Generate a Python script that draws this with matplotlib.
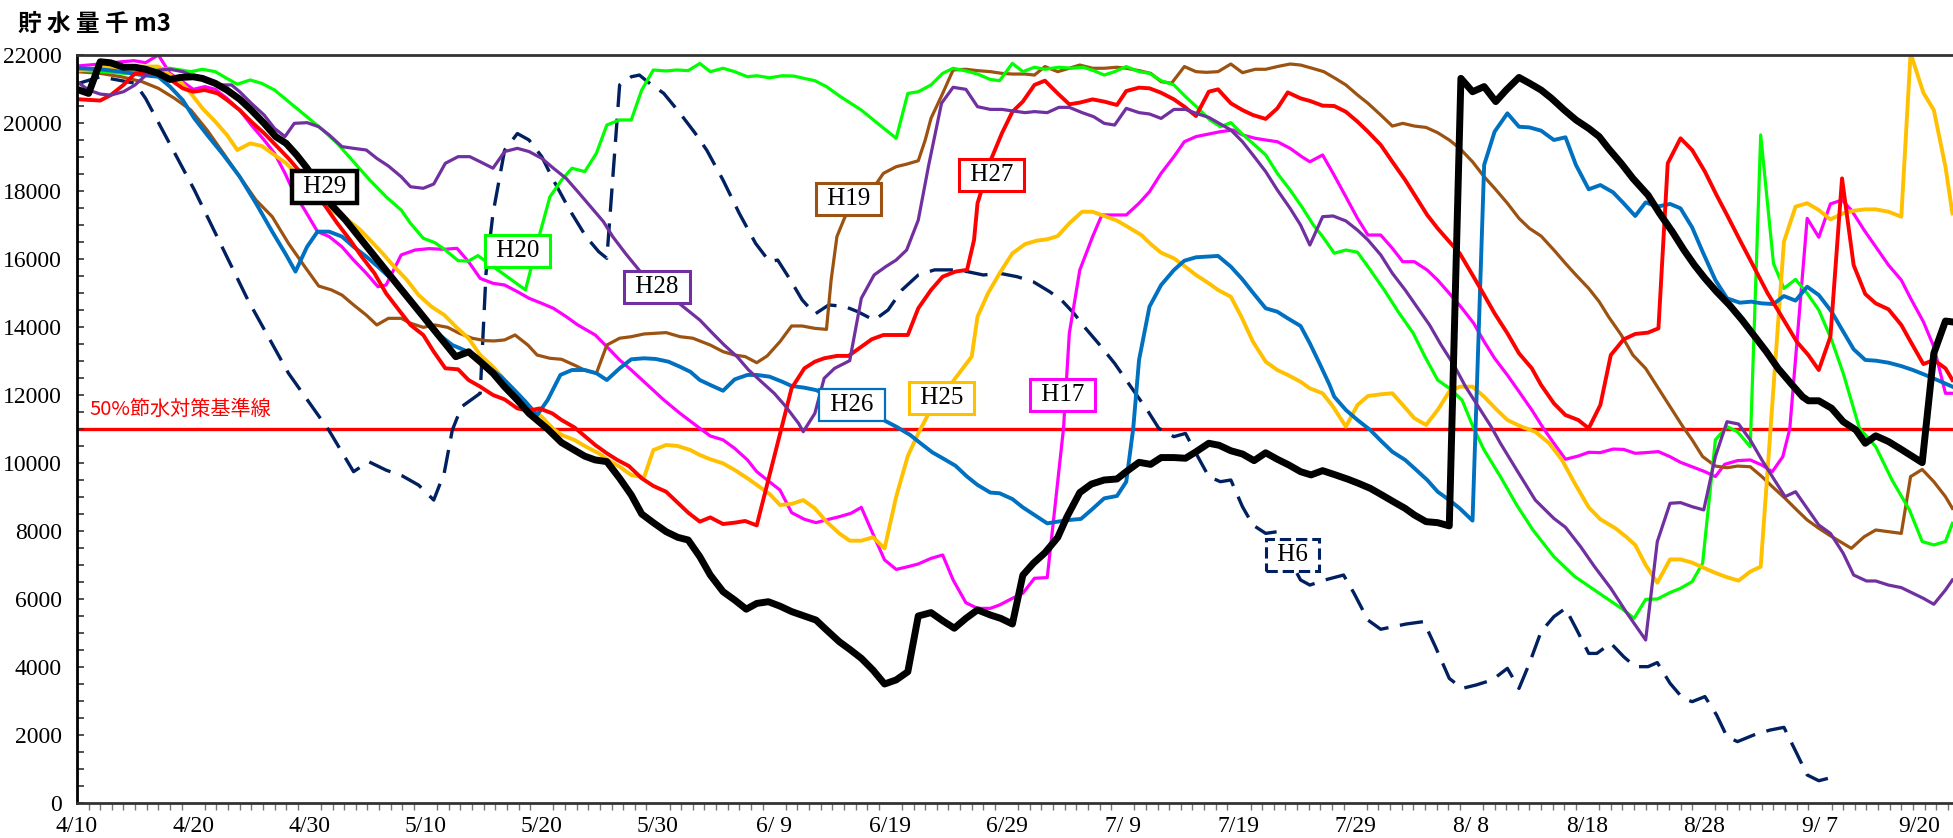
import matplotlib.pyplot as plt
from matplotlib.ticker import MultipleLocator

# storage in thousand m3, x = days counted from 4/10
h29_day = [0, 1, 2, 2.9, 4, 5, 5.9, 7, 8, 8.9, 10, 10.8, 11.9, 12.9, 14, 15, 16.1, 17.1, 18, 18.9, 19.8,
           21.9, 23.1, 27.8, 32.6, 33.7, 34.7, 35.8, 36.8, 37.9, 38.9, 40.5, 41.7, 42.8, 43.7, 44.6, 45.6,
           46.7, 47.7, 48.6, 49.6, 50.7, 51.7, 52.6, 53.6, 54.5, 55.6, 56.6, 57.6, 58.5, 59.5, 60.5, 61.5,
           62.6, 63.6, 64.5, 65.6, 66.5, 67.5, 68.5, 69.5, 70.5, 71.5, 72.4, 73.5, 74.5, 75.5, 76.5, 77.5,
           78.6, 79.5, 80.5, 81.4, 82.3, 83.3, 84.4, 85.2, 86.3, 87.3, 88.4, 89.5, 90.3, 91.4, 92.4, 93.3,
           94.4, 95.4, 96.3, 97.4, 98.3, 99.3, 100.3, 101.3, 102.3, 103.3, 104.3, 105.3, 106.2, 107.2,
           108.3, 109.4, 110.3, 111.3, 112.3, 113.3, 114.3, 115.1, 116.1, 117.1, 118.1, 119.1, 120.1,
           121.1, 122.1, 123, 124.1, 125, 126, 126.9, 128, 129, 130.1, 131, 131.8, 132.9, 133.9, 135.2,
           136.2, 137.3, 138.3, 139.2, 140.1, 141.1, 142.2, 143.3, 144.3, 145.4, 146.4, 147.5, 148.5, 149,
           149.9, 151, 152, 153.1, 153.9, 154.8, 155.9, 157, 157.9, 158.8, 159.8, 160.8, 161.4]
h29_val = [20990, 20870, 21800, 21770, 21640, 21640, 21580, 21460, 21280, 21340, 21360, 21310, 21166,
           20970, 20700, 20380, 19990, 19600, 19400, 19060, 18670, 17590, 17150, 15150, 13127, 13270,
           12980, 12640, 12240, 11850, 11460, 11000, 10600, 10380, 10200, 10090, 10040, 9550, 9060, 8500,
           8245, 7980, 7814, 7735, 7245, 6706, 6216, 5970, 5700, 5870, 5920, 5790, 5630, 5500, 5380, 5090,
           4745, 4520, 4255, 3910, 3500, 3620, 3860, 5500, 5600, 5360, 5140, 5430, 5680, 5530, 5430, 5265,
           6700, 7050, 7360, 7810, 8420, 9130, 9380, 9500, 9530, 9745, 10020, 9960, 10160, 10160, 10140,
           10330, 10580, 10520, 10360, 10265, 10070, 10300, 10110, 9940, 9745, 9650, 9775, 9650, 9520,
           9400, 9255, 9060, 8860, 8665, 8470, 8275, 8245, 8150, 21313, 20920, 21070, 20630, 20970, 21340,
           21170, 20970, 20725, 20380, 20090, 19840, 19600, 19250, 18810, 18370, 17880, 17340, 16800,
           16260, 15820, 15430, 15040, 14650, 14205, 13760, 13270, 12780, 12340, 11950, 11830, 11830,
           11610, 11215, 10970, 10580, 10800, 10630, 10400, 10205, 10010, 13225, 14175, 14150]

h6_day = [0, 2, 5, 5.9, 10.1, 14.7, 18.2, 21.7, 23.8, 25.1, 26.6, 28, 29.4, 30.7, 31.6, 32.3, 33.1, 34.7,
          35.2, 35.8, 36.8, 37.9, 38.9, 40, 41, 42.4, 43.8, 44.9, 45.6, 46.7, 47.7, 48.4, 49.1, 50.5, 51.9,
          53.2, 54.2, 55.6, 57, 58.4, 59.6, 60.3, 61.4, 62.4, 63.5, 64.7, 66.1, 67.2, 68.6, 69.8, 71, 72.4,
          73.8, 75.2, 76.6, 78, 79.4, 80.9, 82.3, 83.7, 84.7, 85.8, 86.8, 87.9, 89.3, 90.7, 92.1, 93.1, 94.4,
          95.4, 96.3, 97.4, 98.4, 99.3, 100.3, 101.2, 102.3, 103.3, 104.3, 105.3, 106.1, 107.4, 109, 109.9,
          111.1, 112.2, 114.4, 115.9, 116.9, 118.1, 119.2, 120.4, 121.8, 123.1, 124.1, 125, 126, 127.1,
          128.1, 129, 130.1, 130.8, 132, 133.1, 134.1, 135.2, 136, 137.1, 138.2, 139, 140.1, 141.1, 142,
          142.9, 144.3, 145.7, 146.9, 148, 148.9, 149.9, 151.5]
h6_val = [21150, 21360, 21170, 20725, 18030, 14800, 12640, 10950, 9745, 10040, 9790, 9620, 9350, 8910,
          9700, 10970, 11656, 12050, 15580, 17340, 19200, 19690, 19500, 19010, 18320, 17440, 16660, 16215,
          16020, 21120, 21360, 21410, 21215, 20870, 20285, 19700, 19200, 18320, 17340, 16460, 15920, 15970,
          15380, 14800, 14380, 14650, 14600, 14450, 14200, 14500, 15090, 15530, 15680, 15680, 15630, 15530,
          15580, 15480, 15330, 15040, 14800, 14400, 13960, 13520, 12930, 12240, 11560, 11020, 10775, 10870,
          10285, 9600, 9450, 9500, 8715, 8175, 7930, 7980, 7200, 6560, 6410, 6560, 6705, 6170, 5380, 5110,
          5265, 5335, 4600, 3665, 3370, 3470, 3620, 3960, 3370, 4110, 5040, 5480, 5725, 5140, 4400, 4400,
          4700, 4305, 4010, 4010, 4130, 3520, 3080, 2980, 3130, 2590, 1950, 1805, 2000, 2145, 2225, 1460,
          825, 655, 795]

h17_day = [0, 2, 3.8, 4.9, 5.9, 7, 8, 9.1, 10, 11, 11.9, 12.9, 14, 15, 16.1, 17, 17.9, 18.7, 19.6, 20.7,
           21.7, 22.8, 23.8, 24.9, 25.9, 26.6, 27.9, 29.1, 30.3, 31.6, 32.7, 33.7, 34.7, 35.8, 36.8, 37.9,
           38.9, 40, 41, 42.1, 43.1, 44.6, 45.6, 46.7, 47.7, 49.1, 50.5, 51.9, 53.6, 54.5, 55.6, 56.6, 57.7,
           58.5, 59.4, 60.5, 61.5, 62.6, 63.6, 64.7, 65.6, 66.6, 67.5, 68.6, 69.5, 70.5, 71.5, 72.4, 73.5,
           74.5, 75.4, 76.5, 77.5, 78.6, 79.4, 80.5, 81.4, 82.4, 83.5, 84.9, 85.4, 86.3, 87.4, 88.2, 89.3,
           90.3, 91.4, 92.3, 93.3, 94.4, 95.3, 96.3, 97.4, 98.4, 99.5, 100.3, 101.4, 102.3, 103.3, 104.4,
           105.4, 106.1, 107.2, 108.1, 109.2, 110.2, 111.1, 112.2, 113.2, 114.1, 115.1, 116.2, 117.1, 118.1,
           119.2, 120.2, 121.1, 122, 123.1, 124.1, 125.2, 126.2, 127.1, 128.1, 129.2, 130.1, 131.1, 132.2,
           133.1, 134.1, 135, 136.1, 137.1, 138, 139, 140.1, 141, 141.8, 142.9, 144, 145, 145.9, 146.8,
           147.4, 148.9, 149.9, 150.9, 151.9, 152.7, 153.8, 154.8, 155.9, 157, 157.8, 158.9, 159.8, 160.8,
           161.4]
h17_val = [21676, 21735, 21800, 21833, 21775, 22000, 21460, 21215, 20990, 21070, 20990, 20725, 20380,
           19940, 19500, 19110, 18520, 17930, 17440, 16805, 16660, 16360, 15970, 15580, 15185, 15235, 16120,
           16265, 16305, 16285, 16315, 15920, 15430, 15285, 15235, 15040, 14845, 14695, 14550, 14305, 14060,
           13765, 13420, 13030, 12735, 12295, 11855, 11460, 11020, 10795, 10680, 10430, 10090, 9745, 9500,
           9205, 8540, 8345, 8245, 8345, 8420, 8520, 8695, 7835, 7150, 6870, 6950, 7030, 7195, 7295, 6560,
           5890, 5725, 5725, 5825, 6020, 6170, 6610, 6630, 11020, 13815, 15675, 16655, 17295, 17295, 17295,
           17640, 17980, 18520, 19010, 19450, 19600, 19675, 19745, 19795, 19650, 19550, 19500, 19450, 19255,
           19010, 18860, 19060, 18520, 17830, 17195, 16705, 16705, 16315, 15920, 15920, 15675, 15380, 14990,
           14550, 14110, 13570, 13080, 12585, 12100, 11560, 11020, 10580, 10110, 10205, 10315, 10305, 10410,
           10400, 10285, 10305, 10335, 10185, 10020, 9890, 9745, 9600, 9960, 10070, 10090, 9940, 9745, 10185,
           11000, 17195, 16640, 17620, 17735, 17440, 16850, 16360, 15820, 15380, 14845, 14155, 13420, 12050,
           12050]

h19_day = [0, 2, 3.8, 5.6, 7, 8.4, 9.8, 11.2, 12.6, 14, 15.4, 16.8, 18.2, 19.6, 20.8, 21.9, 22.8, 23.8,
           24.9, 25.8, 26.8, 27.9, 28.7, 29.8, 30.8, 31.9, 32.9, 34, 35.1, 35.9, 36.8, 37.7, 38.8, 39.6, 40.7,
           41.7, 42.8, 43.8, 44.7, 45.6, 46.7, 47.7, 48.8, 49.8, 50.7, 51.9, 53, 54.5, 55.6, 56.6, 57.5, 58.5,
           59.4, 60.5, 61.5, 62.4, 63.5, 64.5, 64.9, 65.4, 66.1, 68.7, 69.4, 70.5, 71.4, 72.4, 73, 73.5, 74.5,
           75.4, 76.5, 77.5, 78.6, 79.6, 80.5, 81.6, 82.4, 83.3, 84.4, 85.4, 86.3, 87.4, 88.4, 89.5, 90.3,
           91.4, 92.4, 93.3, 94.2, 95.3, 96.3, 97.2, 98.2, 99.3, 100.3, 101.4, 102.3, 103.3, 104.4, 105.3,
           106.3, 107.3, 108.3, 109.2, 110.2, 111.1, 112.2, 113.2, 114.1, 115.1, 116.1, 117.1, 118.1, 119,
           120.1, 121.1, 122, 123.1, 124.1, 125, 126, 127.1, 128.1, 129, 130.1, 131, 131.8, 132.9, 133.9, 135,
           136, 137.1, 138.2, 139, 139.9, 141, 142, 142.9, 144, 145, 145.9, 147, 148, 148.9, 149.9, 150.8,
           151.9, 152.7, 153.8, 154.8, 155.9, 157, 157.8, 158.8, 159.8, 160.8, 161.4]
h19_val = [21510, 21460, 21360, 21215, 21020, 20725, 20380, 19790, 19110, 18420, 17735, 17245, 16460,
           15775, 15205, 15090, 14940, 14650, 14350, 14060, 14255, 14255, 14110, 13990, 14060, 13990, 13815,
           13670, 13600, 13590, 13620, 13765, 13470, 13175, 13080, 13050, 12880, 12715, 12640, 13470, 13670,
           13715, 13795, 13815, 13835, 13715, 13670, 13470, 13275, 13175, 13130, 12950, 13150, 13570, 14030,
           14030, 13960, 13930, 15380, 16660, 17245, 18170, 18520, 18715, 18790, 18890, 19500, 20140, 20870,
           21560, 21580, 21540, 21510, 21460, 21440, 21440, 21410, 21660, 21510, 21610, 21705, 21610, 21610,
           21640, 21610, 21540, 21460, 21215, 21170, 21660, 21510, 21490, 21510, 21735, 21480, 21580, 21580,
           21660, 21735, 21705, 21610, 21510, 21310, 21120, 20825, 20580, 20235, 19910, 19990, 19910, 19870,
           19715, 19500, 19255, 18860, 18420, 18080, 17640, 17195, 16900, 16675, 16265, 15870, 15530, 15135,
           14745, 14305, 13765, 13175, 12780, 12245, 11655, 11070, 10680, 10190, 9910, 9860, 9910, 9890,
           9600, 9305, 8960, 8620, 8325, 8080, 7880, 7655, 7490, 7830, 8030, 7980, 7930, 9600, 9810, 9450,
           9010, 8665]

h20_day = [0, 4.2, 6.1, 8, 9.8, 10.8, 11.9, 12.9, 13.8, 14.9, 15.9, 17, 18.2, 19.6, 21, 22.4, 23.8, 25.2,
           26.6, 27.9, 28.7, 29.8, 30.8, 31.7, 32.8, 33.7, 34.5, 38.6, 39.8, 40.7, 41.7, 42.6, 43.7, 44.7,
           45.6, 46.7, 47.7, 48.6, 49.6, 50.7, 51.6, 52.6, 53.6, 54.5, 55.6, 56.6, 57.7, 58.5, 59.6, 60.7,
           61.7, 62.6, 63.5, 64.5, 65.7, 67.5, 68.9, 70.5, 71.5, 72.4, 73.5, 74.5, 75.4, 76.5, 77.5, 78.6,
           79.4, 80.5, 81.4, 82.4, 83.3, 84.5, 85.6, 86.6, 87.5, 88.4, 89.3, 90.3, 91.4, 92.3, 93.3, 94.4,
           95.4, 96.5, 97.5, 98.4, 99.3, 100.2, 101.2, 102.3, 103.3, 104.4, 105.4, 106.4, 107.2, 108.2,
           109.2, 110.2, 111.3, 112.5, 113.7, 115, 116, 117.1, 118.1, 119.2, 120.2, 121.1, 122.5, 123.9,
           125.3, 127.1, 128.9, 131, 133.1, 134, 135, 136, 137.1, 138, 139, 139.9, 141, 142, 142.9, 144,
           144.9, 146, 146.9, 147.9, 148.9, 149.9, 151, 152, 153.4, 154.8, 156.2, 157.7, 158.8, 159.8,
           160.8, 161.4]
h20_val = [21560, 21460, 21560, 21610, 21510, 21580, 21510, 21310, 21140, 21265, 21166, 20970, 20630,
           20235, 19840, 19400, 18860, 18320, 17830, 17440, 17050, 16610, 16480, 16265, 15950, 15940, 16100,
           15090, 16705, 17830, 18320, 18670, 18570, 19110, 19940, 20090, 20090, 20970, 21560, 21530, 21560,
           21540, 21750, 21510, 21610, 21510, 21360, 21390, 21330, 21390, 21380, 21310, 21245, 21070, 20775,
           20380, 19990, 19550, 20870, 20920, 21120, 21460, 21610, 21530, 21440, 21280, 21245, 21755, 21510,
           21640, 21580, 21640, 21610, 21640, 21540, 21410, 21510, 21660, 21510, 21460, 21245, 21120, 20775,
           20430, 20090, 19890, 20010, 19700, 19400, 19060, 18520, 18030, 17540, 17000, 16660, 16170, 16265,
           16200, 15680, 15090, 14450, 13815, 13130, 12440, 12200, 11850, 11020, 10380, 9600, 8765, 8030,
           7245, 6660, 6170, 5680, 5430, 5990, 6000, 6190, 6315, 6510, 7050, 10680, 11070, 10920, 10480,
           19650, 15870, 15135, 15400, 14990, 14500, 13620, 12640, 11020, 10480, 9500, 8620, 7690, 7590,
           7690, 8225]

h25_day = [0, 2, 3.8, 5.6, 7, 8, 8.9, 9.8, 10.8, 11.9, 12.9, 13.8, 14.9, 15.9, 17, 18, 19.1, 20.1, 21.2,
           22.3, 23.3, 24.4, 25.2, 26.3, 27.3, 28.4, 29.4, 30.5, 31.6, 32.6, 33.7, 34.7, 35.8, 36.8, 37.9,
           38.9, 40, 41, 41.7, 42.8, 43.8, 44.9, 45.8, 46.7, 47.7, 48.8, 49.6, 50.7, 51.7, 52.8, 53.6, 54.5,
           55.6, 56.6, 57.7, 58.5, 59.6, 60.5, 61.5, 62.5, 63.5, 64.5, 65.6, 66.5, 67.5, 68.5, 69.5, 70.5,
           71.5, 72.4, 73.3, 77, 77.5, 78.4, 79.4, 80.5, 81.6, 82.6, 83.5, 84.4, 85.4, 86.5, 87.4, 88.4, 89.5,
           90.5, 91.6, 92.4, 93.3, 94.4, 95.3, 96.3, 97.4, 98.2, 99.3, 100.2, 101.2, 102.3, 103.3, 104.2,
           105.3, 106.1, 107.2, 108.1, 109.2, 110.2, 111.1, 112.2, 113.2, 114.1, 115.1, 116.1, 117.1, 118.1,
           119, 120.1, 121.1, 122.2, 123.1, 124.3, 125.5, 126.7, 127.8, 128.9, 130.1, 131.1, 132.4, 133.3,
           134.1, 135, 136, 137.1, 138, 139, 140.1, 141.1, 142, 143, 144, 144.9, 146.9, 147.9, 148.9, 149.9,
           150.9, 152, 152.9, 153.9, 154.8, 155.9, 157, 157.8, 158.9, 159.8, 160.8, 161.4]
h25_val = [21540, 21610, 21640, 21660, 21660, 21410, 21215, 20870, 20430, 20040, 19650, 19205, 19400,
           19325, 19060, 18815, 18420, 17980, 17640, 17345, 17150, 16850, 16560, 16165, 15775, 15380, 14940,
           14600, 14355, 14010, 13665, 13175, 12830, 12440, 12050, 11655, 11360, 11000, 10825, 10680, 10480,
           10285, 10070, 9890, 9645, 9580, 10380, 10530, 10500, 10380, 10235, 10110, 9990, 9795, 9550, 9355,
           9090, 8765, 8795, 8910, 8665, 8275, 7930, 7715, 7715, 7815, 7490, 9010, 10205, 10870, 11460,
           13130, 14305, 14990, 15580, 16165, 16440, 16540, 16580, 16675, 17050, 17390, 17390, 17265, 17130,
           16930, 16705, 16440, 16185, 16020, 15795, 15530, 15285, 15090, 14890, 14305, 13570, 12980, 12735,
           12590, 12390, 12195, 12050, 11655, 11070, 11705, 11970, 12020, 12050, 11705, 11315, 11120, 11560,
           12100, 12245, 12245, 11950, 11560, 11265, 11070, 10920, 10580, 10090, 9400, 8695, 8345, 8080,
           7835, 7590, 7000, 6480, 7165, 7165, 7070, 6900, 6755, 6640, 6540, 6805, 6950, 16510, 17540, 17640,
           17440, 17165, 17345, 17420, 17460, 17460, 17390, 17245, 22050, 20890, 20380, 18715, 17340]

h26_day = [0, 2, 3.8, 5.6, 7, 8, 9.1, 10.1, 11.2, 12.6, 14, 15.4, 16.8, 18, 18.8, 19.8, 20.7, 21.7, 22.8,
           23.8, 24.9, 25.9, 27, 28, 29.1, 30.1, 31.2, 32.3, 33.3, 34.4, 35.4, 36.5, 37.5, 38.6, 39.6, 40.5,
           41.6, 42.6, 43.7, 44.7, 45.6, 46.7, 47.7, 48.8, 49.8, 50.9, 51.9, 52.8, 53.6, 54.5, 55.6, 56.6,
           57.7, 58.5, 59.6, 60.7, 61.5, 62.6, 63.6, 69.4, 70.5, 71.7, 72.6, 73.6, 74.5, 75.6, 76.6, 77.5,
           78.6, 79.4, 80.5, 81.4, 82.4, 83.5, 84.4, 85.4, 86.4, 87.3, 88.4, 89.5, 90.3, 90.9, 91.4, 92.3,
           93.3, 94.4, 95.3, 96.3, 97.2, 98.2, 99.3, 100.3, 101.2, 102.3, 103.3, 104.2, 105.3, 106.1, 107,
           107.8, 108.2, 109.2, 110.2, 111.3, 112.3, 113.2, 114.3, 115.1, 116.2, 117.1, 118.1, 119, 120.1,
           121.1, 122, 123.1, 124.1, 125, 126, 127.1, 128.1, 129, 130.1, 131.1, 132.2, 133.1, 134.1, 135,
           136, 137.1, 138, 139, 139.9, 141, 142, 143.1, 144.1, 145, 146, 146.9, 147.9, 148.9, 149.9, 151,
           152, 152.9, 153.9, 154.8, 155.9, 157, 158, 159.1, 160.1, 161.4]
h26_val = [21610, 21580, 21510, 21410, 21360, 21070, 20675, 20135, 19650, 19060, 18420, 17640, 16805,
           16120, 15630, 16360, 16805, 16805, 16660, 16360, 16070, 15775, 15430, 15040, 14600, 14155, 13765,
           13470, 13325, 13130, 12830, 12540, 12195, 11805, 11410, 11850, 12590, 12735, 12735, 12640, 12440,
           12785, 13050, 13080, 13060, 12980, 12830, 12680, 12440, 12295, 12125, 12460, 12590, 12590, 12540,
           12390, 12265, 12215, 12145, 11265, 11070, 10825, 10580, 10315, 10140, 9920, 9600, 9355, 9130, 9110,
           8940, 8695, 8470, 8225, 8275, 8325, 8355, 8620, 8960, 9030, 9450, 11020, 13030, 14600, 15235,
           15675, 15950, 16050, 16070, 16090, 15775, 15400, 15010, 14550, 14450, 14255, 14030, 13520, 12880,
           12295, 11950, 11560, 11265, 10970, 10625, 10330, 10090, 9845, 9500, 9155, 8910, 8665, 8305, 18765,
           19745, 20285, 19890, 19870, 19775, 19500, 19580, 18765, 18050, 18175, 17960, 17640, 17265, 17665,
           17540, 17620, 17490, 16930, 16215, 15380, 14845, 14715, 14745, 14695, 14675, 14910, 14775, 15185,
           14940, 14450, 13865, 13345, 13030, 13010, 12950, 12850, 12735, 12585, 12440, 12245]

h27_day = [0, 1, 2, 2.9, 4, 5, 6.1, 7.1, 8, 9.1, 10, 11, 12.1, 12.9, 14, 15, 16.1, 17.1, 18.2, 19.3, 20.3,
           21.4, 22.4, 23.5, 24.5, 25.6, 26.6, 27.7, 28.7, 29.8, 30.7, 31.7, 32.8, 33.7, 34.7, 35.8, 36.8,
           37.9, 38.9, 39.8, 40.9, 41.7, 42.8, 44.6, 45.6, 46.5, 47.5, 48.6, 49.6, 50.7, 51.6, 52.6, 53.6,
           54.5, 55.6, 56.6, 57.5, 58.5, 61.5, 62.6, 63.5, 64.3, 65.4, 66.4, 67.5, 68.4, 69.4, 70.5, 71.5,
           72.4, 73.5, 74.5, 75.6, 76.6, 77.2, 77.5, 78.7, 79.6, 80.5, 81.4, 82.4, 83.3, 84.4, 85.4, 86.3,
           87.4, 88.4, 89.5, 90.3, 91.4, 92.3, 93.3, 94.4, 95.3, 96.3, 97.4, 98.2, 99.3, 100.3, 101.2, 102.3,
           103.3, 104.2, 105.3, 106.1, 107.2, 108.2, 109.2, 110.2, 111.1, 112.2, 113.2, 114.3, 115.3, 116.2,
           117.1, 118.1, 119, 120.1, 121.1, 122, 123.1, 124.1, 125.2, 126, 127.1, 128.1, 129.2, 130.1, 131.1,
           132, 133.1, 134.1, 135.2, 136.1, 136.9, 138, 139, 140.1, 141.1, 142, 143.1, 144.3, 145.5, 146.8,
           148, 149, 149.9, 150.9, 151.9, 152.9, 153.9, 154.8, 155.9, 157, 157.8, 158.9, 159.8, 160.8, 161.4]
h27_val = [20700, 20680, 20660, 20820, 21120, 21460, 21480, 21440, 21285, 21020, 20920, 20970, 20870,
           20680, 20380, 20040, 19700, 19350, 18960, 18520, 18030, 17540, 17050, 16560, 16070, 15580, 14990,
           14500, 14060, 13765, 13275, 12785, 12755, 12440, 12245, 12000, 11870, 11605, 11540, 11605, 11460,
           11265, 11050, 10530, 10285, 10090, 9910, 9550, 9325, 9155, 8865, 8540, 8275, 8400, 8205, 8245,
           8295, 8165, 12200, 12785, 12980, 13080, 13150, 13150, 13420, 13640, 13765, 13765, 13765, 14550,
           15090, 15480, 15630, 15680, 16560, 17640, 18960, 19700, 20330, 20630, 21120, 21245, 20870, 20550,
           20600, 20695, 20630, 20530, 20940, 21040, 21020, 20890, 20695, 20480, 20205, 20920, 20990, 20580,
           20380, 20235, 20120, 20430, 20900, 20725, 20650, 20510, 20500, 20330, 20040, 19745, 19355, 18860,
           18325, 17785, 17295, 16900, 16510, 16165, 15530, 14940, 14400, 13815, 13225, 12785, 12295, 11755,
           11410, 11265, 11020, 11705, 13175, 13635, 13795, 13835, 13960, 18815, 19550, 19205, 18570, 17880,
           17295, 16560, 15775, 14990, 14255, 13570, 13175, 12735, 13715, 18370, 15820, 14970, 14695, 14520,
           14060, 13570, 12910, 13030, 12785, 12440]

h28_day = [0, 1, 2, 2.9, 4, 5, 6.1, 7.1, 8, 9.1, 10.1, 11.2, 12.2, 13.3, 14, 15, 16.1, 17, 17.9, 18.7,
           19.8, 20.8, 21.7, 22.8, 23.8, 24.9, 25.8, 26.8, 27.9, 28.7, 29.8, 30.7, 31.7, 32.8, 33.8, 34.7,
           35.8, 36.8, 37.9, 38.9, 40, 41, 42.1, 43.1, 44.2, 45.3, 46.1, 47.2, 48.6, 52.7, 53.6, 54.7, 55.7,
           56.8, 57.8, 58.9, 60, 61, 62.1, 62.5, 63.5, 64.3, 65.2, 66.5, 67.5, 68.6, 69.6, 70.5, 71.4, 72.4,
           73.3, 74.4, 75.4, 76.5, 77.5, 78.6, 79.6, 80.5, 81.6, 82.4, 83.5, 84.5, 85.4, 86.5, 87.5, 88.4,
           89.3, 90.3, 91.4, 92.3, 93.3, 94.4, 95.4, 96.3, 97.4, 98.2, 99.3, 100.3, 101.2, 102.3, 103.3,
           104.4, 105.3, 106.1, 107.2, 108.1, 109.2, 110.2, 111.1, 112.2, 113.2, 114.3, 115.3, 116.4, 117.4,
           118.5, 119.5, 120.6, 121.7, 122.5, 123.9, 125.5, 127.1, 128.1, 129.4, 130.6, 132, 133.4, 135, 136,
           137.1, 138, 139, 140, 141, 142, 143, 144, 145, 145.9, 147, 147.9, 148.9, 149.9, 150.9, 152, 152.9,
           154, 154.8, 155.9, 157, 157.9, 158.9, 159.8, 160.8, 161.4]
h28_val = [21215, 20970, 20850, 20820, 20920, 21120, 21460, 21560, 21580, 21510, 21360, 21215, 21120,
           21120, 20920, 20580, 20235, 19840, 19600, 19990, 20010, 19890, 19650, 19305, 19255, 19205, 18960,
           18735, 18420, 18125, 18080, 18205, 18815, 19010, 19010, 18860, 18670, 19160, 19255, 19160, 18960,
           18670, 18370, 17980, 17540, 17100, 16660, 16165, 15580, 14450, 14205, 13815, 13470, 13130, 12735,
           12390, 12050, 11660, 11165, 10920, 11460, 12490, 12785, 13010, 14845, 15530, 15775, 15970, 16265,
           17145, 18765, 20580, 21050, 20990, 20480, 20400, 20400, 20355, 20305, 20335, 20305, 20460, 20460,
           20305, 20185, 19990, 19940, 20430, 20305, 20265, 20135, 20400, 20400, 20285, 20165, 20010, 19795,
           19450, 19060, 18570, 18030, 17490, 17000, 16410, 17245, 17265, 17120, 16850, 16560, 16120, 15580,
           15090, 14600, 14060, 13470, 12880, 12245, 11655, 11070, 10580, 9795, 8910, 8370, 8110, 7540, 6950,
           6315, 5580, 4795, 7685, 8815, 8835, 8715, 8620, 10190, 11215, 11145, 10680, 10090, 9600, 9010,
           9155, 8665, 8175, 7930, 7345, 6705, 6530, 6530, 6410, 6335, 6185, 6020, 5845, 6265, 6560]

tick_days = [0, 10, 20, 30, 40, 50, 60, 70, 80, 90, 100, 110, 120, 130, 140, 150, 158.5]
tick_labels = ['4/10', '4/20', '4/30', '5/10', '5/20', '5/30', '6/ 9', '6/19', '6/29',
               '7/ 9', '7/19', '7/29', '8/ 8', '8/18', '8/28', '9/ 7', '9/20']

threshold = 11000

serif = ['Liberation Serif', 'DejaVu Serif']
cjk = ['Noto Sans CJK JP', 'DejaVu Sans']

fig = plt.figure(figsize=(19.53, 8.38), dpi=100)
ax = fig.add_axes([77 / 1953, 35 / 838, 1 - 77 / 1953, 748 / 838])

ax.axhline(threshold, color='#FF0000', lw=2.4, zorder=1)

dash = (0, (7, 3.5))
ax.plot(h6_day, h6_val, color='#002060', lw=2.4, linestyle=dash, zorder=2)
ax.plot(h17_day, h17_val, color='#FF00FF', lw=2.3, zorder=2)
ax.plot(h19_day, h19_val, color='#9C5210', lw=2.3, zorder=2)
ax.plot(h20_day, h20_val, color='#00FF00', lw=2.3, zorder=2)
ax.plot(h25_day, h25_val, color='#FFC000', lw=2.8, zorder=2)
ax.plot(h26_day, h26_val, color='#0070C0', lw=2.8, zorder=2)
ax.plot(h27_day, h27_val, color='#FF0000', lw=2.8, zorder=2)
ax.plot(h28_day, h28_val, color='#7030A0', lw=2.3, zorder=2)
ax.plot(h29_day, h29_val, color='black', lw=5, zorder=3)

# name tags for the years
tags = [
    ('H29', 21.3, 18120, 'black', 3.2, '-'),
    ('H20', 37.9, 16235, '#00FF00', 2.2, '-'),
    ('H28', 49.9, 15180, '#7030A0', 2.2, '-'),
    ('H19', 66.4, 17765, '#9C5210', 2.2, '-'),
    ('H27', 78.7, 18470, '#FF0000', 2.2, '-'),
    ('H26', 66.7, 11700, '#0070C0', 1.6, '-'),
    ('H25', 74.4, 11910, '#FFC000', 2.2, '-'),
    ('H17', 84.8, 12000, '#FF00FF', 2.2, '-'),
    ('H6', 104.6, 7295, '#002060', 2.2, '--'),
]
for name, x, y, col, lw, ls in tags:
    ax.text(x, y, ' ' + name + ' ', family=serif, fontsize=18, ha='center', va='center', zorder=5,
            bbox=dict(boxstyle='square,pad=0.2', fc='white', ec=col, lw=lw, ls=ls))

ax.text(1.1, 11580, '50%節水対策基準線', color='#FF0000', family=cjk, fontsize=14.5,
        va='center', ha='left', zorder=5)

ax.set_xlim(0, 161.45)
ax.set_ylim(0, 22000)

ax.set_xticks(tick_days)
ax.set_xticklabels(tick_labels, family=serif, fontsize=17)
ax.xaxis.set_minor_locator(MultipleLocator(1))
ax.tick_params(axis='x', which='major', length=0, pad=9)
ax.tick_params(axis='x', which='minor', direction='out', length=5, width=1, color='#777777')

ax.yaxis.set_major_locator(MultipleLocator(2000))
ax.yaxis.set_minor_locator(MultipleLocator(500))
ax.tick_params(axis='y', which='both', direction='in', length=5, width=1.2, color='#333333', pad=11)
for lab in ax.get_yticklabels():
    lab.set_family(serif)
    lab.set_fontsize(17)

ax.spines['right'].set_visible(False)
ax.spines['left'].set_linewidth(2)
ax.spines['bottom'].set_linewidth(2)
ax.spines['bottom'].set_color('#333333')
ax.spines['top'].set_linewidth(2)
ax.spines['top'].set_color('#333333')

fig.text(0.009, 0.972, '貯 水 量 千 m3', family=cjk, fontsize=17, fontweight='bold', va='center', ha='left')

fig.savefig('out.png', dpi=100)
